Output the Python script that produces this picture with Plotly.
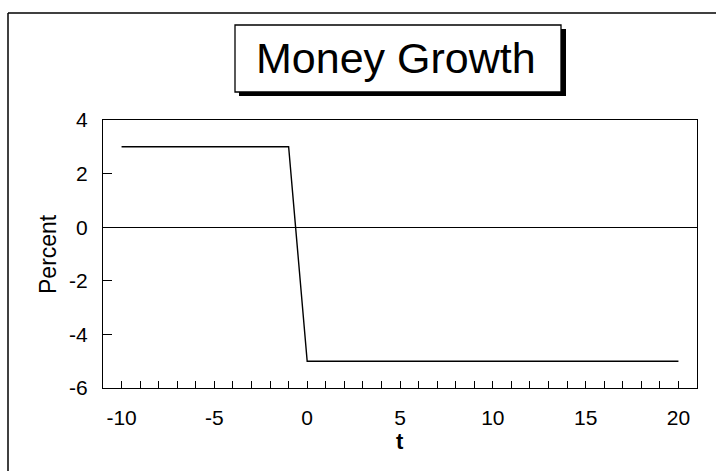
import plotly.graph_objects as go

t = [-10, -9, -8, -7, -6, -5, -4, -3, -2, -1, 0, 1, 2, 3, 4, 5, 6, 7, 8, 9, 10,
     11, 12, 13, 14, 15, 16, 17, 18, 19, 20]
money_growth = [3, 3, 3, 3, 3, 3, 3, 3, 3, 3, -5, -5, -5, -5, -5, -5, -5, -5, -5, -5, -5,
                -5, -5, -5, -5, -5, -5, -5, -5, -5, -5]
x_ticks = [-10, -5, 0, 5, 10, 15, 20]
x_tick_labels = ["-10", "-5", "0", "5", "10", "15", "20"]
y_ticks = [-6, -4, -2, 0, 2, 4]
y_tick_labels = ["-6", "-4", "-2", "0", "2", "4"]
title_text = "Money Growth"

FONT = "Liberation Sans, Arial, Helvetica, sans-serif"

# plot area in pixels: x 103..697, y 120..388
L, R, T, B = 103, 697, 120, 388
W, H = R - L, B - T


def px(x):
    return (x - L) / W


def py(y):
    return (B - y) / H


fig = go.Figure()
fig.add_trace(go.Scatter(x=t, y=money_growth, mode="lines",
                         line=dict(color="black", width=1.4), showlegend=False))

fig.update_layout(
    width=716, height=471,
    margin=dict(l=L, r=716 - R, t=T, b=471 - B),
    paper_bgcolor="white", plot_bgcolor="white",
    font=dict(family=FONT, color="black", size=21),
    xaxis=dict(range=[-11, 21], tickvals=x_ticks, ticktext=x_tick_labels,
               ticks="inside", ticklen=7, tickwidth=1.2,
               tickcolor="black", showline=True, linecolor="black", linewidth=1.4,
               mirror=True, showgrid=False, zeroline=False, automargin=False,
               minor=dict(dtick=1, ticks="inside", ticklen=7, tickwidth=1.2,
                          tickcolor="black", showgrid=False),
               tickfont=dict(size=21), ticklabelstandoff=11),
    yaxis=dict(range=[-6, 4], tickvals=y_ticks, ticktext=y_tick_labels,
               ticks="inside", ticklen=9, tickwidth=1.2,
               tickcolor="black", showline=True, linecolor="black", linewidth=1.4,
               mirror=True, showgrid=False, zeroline=True, zerolinecolor="black",
               zerolinewidth=1.4, automargin=False, tickfont=dict(size=21),
               ticklabelstandoff=10),
    shapes=[
        # outer frame (left and top edges)
        dict(type="line", xref="paper", yref="paper", x0=px(8), x1=px(716), y0=py(13), y1=py(13),
             line=dict(color="black", width=1.5)),
        dict(type="line", xref="paper", yref="paper", x0=px(8), x1=px(8), y0=py(471), y1=py(13),
             line=dict(color="black", width=1.5)),
        # title shadow
        dict(type="rect", xref="paper", yref="paper", x0=px(239), x1=px(566), y0=py(96), y1=py(29),
             line=dict(width=0), fillcolor="black"),
        # title box
        dict(type="rect", xref="paper", yref="paper", x0=px(235), x1=px(561), y0=py(92), y1=py(25),
             line=dict(color="black", width=1.3), fillcolor="white"),
    ],
    annotations=[
        dict(text=title_text, xref="paper", yref="paper", x=px(396),
             y=py(58), xanchor="center", yanchor="middle", showarrow=False,
             font=dict(size=43, family=FONT, color="black")),
        dict(text="Percent", xref="paper", yref="paper", x=px(48), y=py(254),
             xanchor="center", yanchor="middle", textangle=-90, showarrow=False,
             font=dict(size=23, family=FONT, color="black")),
        dict(text="<b>t</b>", xref="paper", yref="paper", x=px(400), y=py(441),
             xanchor="center", yanchor="middle", showarrow=False,
             font=dict(size=22, family=FONT, color="black")),
    ],
)

fig.write_html("out.html", config={"displayModeBar": False},
               post_script="document.body.style.margin='0';document.body.style.overflow='hidden';")
